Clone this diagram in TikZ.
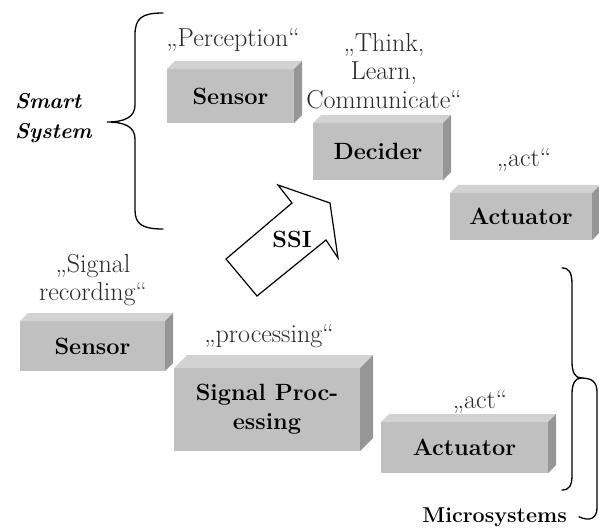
\documentclass[tikz,border=0pt]{standalone}
\usepackage{fontspec}
\usetikzlibrary{calc}

\definecolor{boxfront}{RGB}{192,192,192}
\definecolor{boxtop}{RGB}{210,210,210}
\definecolor{boxside}{RGB}{150,150,150}
\definecolor{lblgray}{RGB}{40,40,40}
\definecolor{quoteblue}{RGB}{31,73,150}

% top and side face of a block, #2 = depth
\newcommand{\boxfaces}[2]{%
  \fill [boxtop] (#1.north west) -- ++(#2,-#2) -- ($(#1.north east)+(#2,-#2)$) -- (#1.north east) -- cycle;
  \fill [boxside] (#1.north east) -- ++(#2,-#2) -- ($(#1.south east)+(#2,-#2)$) -- (#1.south east) -- cycle;}

\begin{document}
\begin{tikzpicture}[x=1pt,y=-1pt,
	block/.style={fill=boxfront, font=\fontsize{23.5}{29}\selectfont\bfseries, align=center, inner sep=0pt, outer sep=0pt},
	lbl/.style={text=lblgray, font=\fontsize{26}{28.5}\selectfont, align=center, inner sep=0pt},
	bracepen/.style={line width=1.3pt, line cap=round}]
	\useasboundingbox (0,0) rectangle (599,529);
	% \draw [red] (0,0) rectangle (599,529);
	% smart system
	\node [block, minimum width=127pt, minimum height=54pt] (sensA) at (230.5,96) {Sensor};
	\node [block, minimum width=130pt, minimum height=57pt] (decA) at (378,151.5) {Decider};
	\node [block, minimum width=142pt, minimum height=47pt] (actA) at (521,216.5) {Actuator};
	\boxfaces{sensA}{8}
	\boxfaces{decA}{8}
	\boxfaces{actA}{8}
	\node [lbl, anchor=base] (percA) at (233,47) {„Perception“};
	\node [lbl] (thinkA) at (384,71) {„Think,\\Learn,\\Communicate“};
	\node [lbl, anchor=base] (actLblA) at (524,167) {„act“};
	% microsystems
	\node [block, minimum width=145pt, minimum height=50pt] (sensB) at (92.5,346) {Sensor};
	\node [block, minimum width=186pt, minimum height=83pt] (procB) at (267,409.5) {Signal Proc-\\essing};
	\node [block, minimum width=167pt, minimum height=51pt] (actB) at (464.5,447.5) {Actuator};
	\boxfaces{sensB}{8}
	\boxfaces{procB}{13}
	\boxfaces{actB}{8}
	\node [lbl] (recB) at (93,280) {„Signal\\recording{\color{quoteblue}“}};
	\node [lbl, anchor=base] (procLblB) at (269,342) {„processing“};
	\node [lbl, anchor=base] (actLblB) at (480,408) {„act“};
	% SSI arrow
	\draw [line width=1.2pt, line join=miter] (278,185) -- (292,203) -- (226,259) -- (257,296) -- (326,240) -- (338,258) -- (330,203) -- cycle;
	\node [font=\fontsize{23.5}{29}\selectfont\bfseries, inner sep=0pt] (ssi) at (292,239) {SSI};
	% braces
	\node [font=\fontsize{21.5}{30}\selectfont\bfseries\itshape, align=left, anchor=west, inner sep=0pt] (smart) at (15,118) {Smart\\System};
	\draw [bracepen] (163,13) .. controls (142,13) and (135,18) .. (135,35) -- (135,105) .. controls (135,117) and (125,122) .. (107,122) .. controls (125,122) and (135,127) .. (135,139) -- (135,210) .. controls (135,224) and (142,229) .. (163,229);
	\node [font=\fontsize{21.5}{30}\selectfont\bfseries, anchor=base east, inner sep=0pt] (micro) at (567,522) {Microsystems};
	\coordinate (msTip) at (581,378);
	\draw [bracepen] (562,268) .. controls (569,268) and (572,272) .. (572,285) -- (572,362) .. controls (572,372) and (575,378) .. (msTip) .. controls (575,378) and (572,384) .. (572,394) -- (572,475) .. controls (572,486) and (569,490) .. (562,490);
	\draw [bracepen] (msTip) .. controls (592,378) and (597,382) .. (597,392) -- (597,508) .. controls (597,518) and (590,522) .. ([xshift=12pt]micro.east);
\end{tikzpicture}
\end{document}
